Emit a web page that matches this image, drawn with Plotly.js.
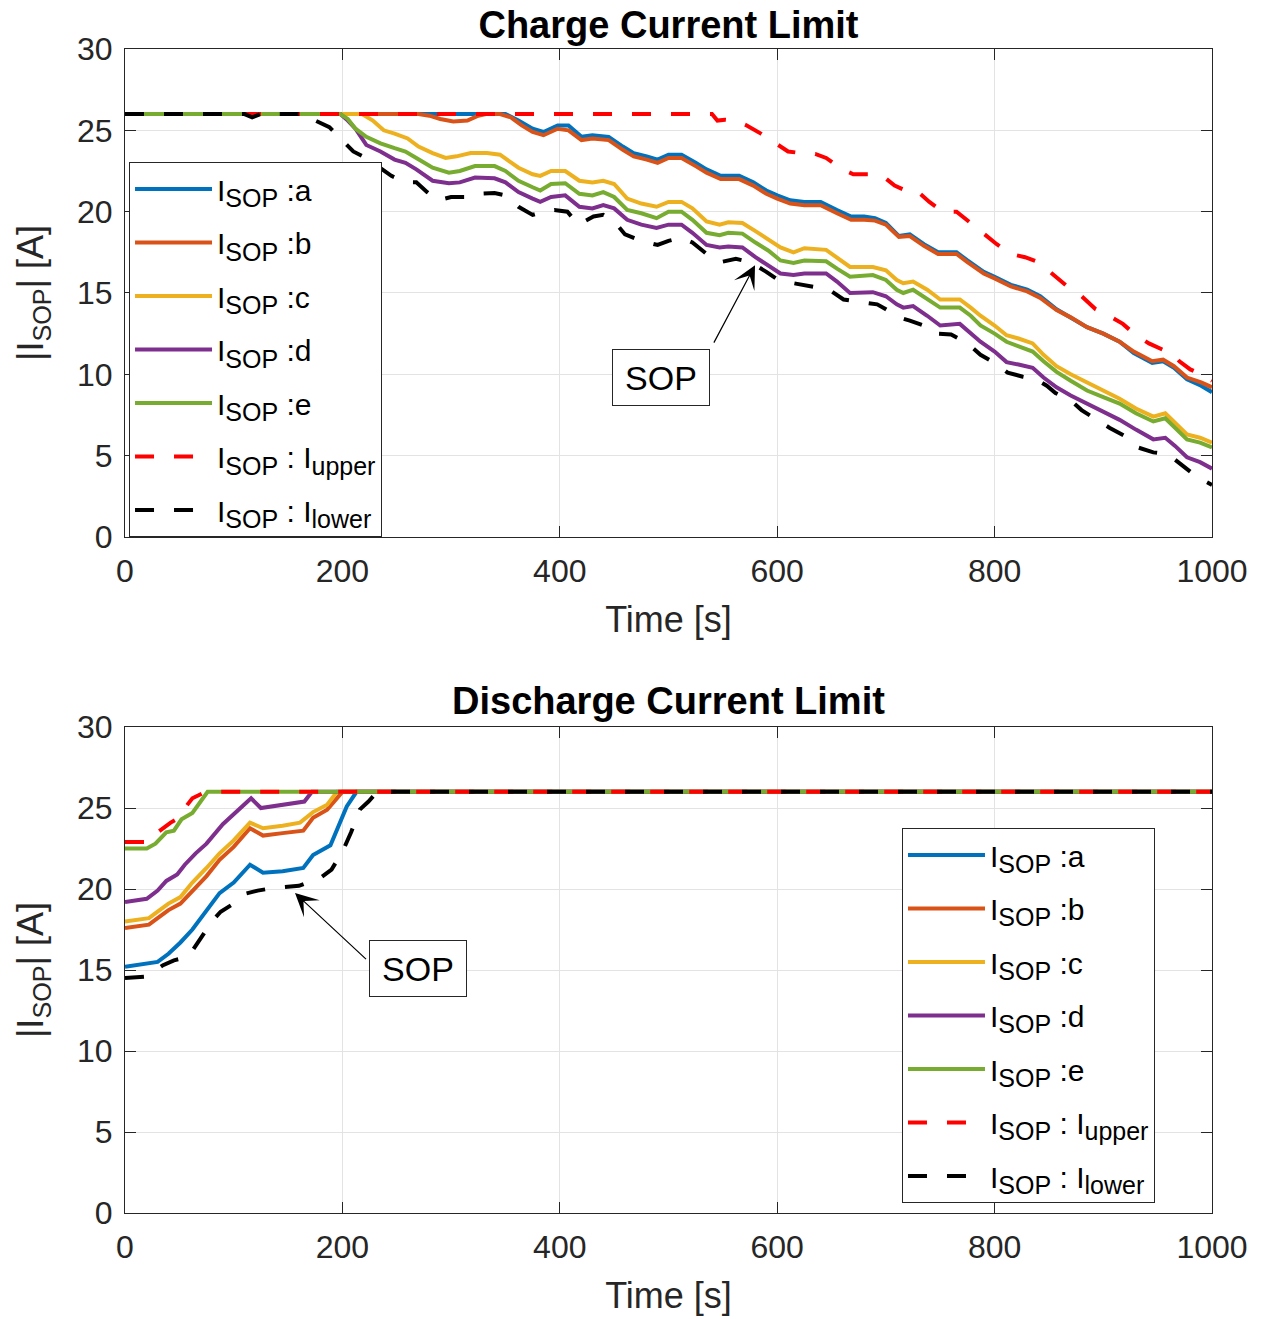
<!DOCTYPE html>
<html><head><meta charset="utf-8">
<script src="https://cdn.plot.ly/plotly-3.0.1.min.js"></script>
<style>html,body{margin:0;padding:0;background:#fff}#chart{width:1261px;height:1319px}</style>
</head><body><div id="chart"></div>
<script>
// ---------- Charge (top) ----------
const chgTimeA = [0,350,362,375,385,398,408,420,430,445,458,468,480,490,500,512,525,535,548,565,578,590,600,612,625,640,655,668,680,690,700,712,722,735,748,765,775,790,800,815,830,842,857,870,885,900,915,928,945,955,965,977,990,1000];
const chgA = [26,26,25.6,25.1,24.9,25.3,25.3,24.6,24.7,24.6,24.0,23.6,23.4,23.2,23.5,23.5,23.0,22.6,22.2,22.2,21.8,21.3,21.0,20.7,20.6,20.6,20.1,19.7,19.7,19.6,19.3,18.5,18.6,18.0,17.5,17.5,17.0,16.3,16.0,15.5,15.2,14.8,14.0,13.5,12.9,12.5,12.0,11.3,10.7,10.8,10.4,9.7,9.3,8.9];

const chgTimeB = [0,270,280,290,302,315,325,332,345,355,365,375,385,398,408,420,430,445,458,468,480,490,500,512,525,535,548,565,578,590,600,612,625,640,655,668,680,690,700,712,722,735,748,765,775,790,800,815,830,842,857,870,885,900,915,928,945,955,965,977,990,1000];
const chgB = [26,26,25.9,25.7,25.55,25.6,25.9,26,26,25.8,25.3,24.9,24.7,25.1,25.0,24.4,24.5,24.4,23.8,23.4,23.2,23.0,23.3,23.3,22.8,22.4,22.0,22.0,21.6,21.1,20.8,20.5,20.4,20.4,19.9,19.5,19.5,19.45,19.2,18.45,18.5,17.9,17.4,17.4,16.9,16.2,15.9,15.4,15.1,14.7,13.95,13.5,12.9,12.5,12.0,11.4,10.8,10.9,10.5,9.8,9.5,9.2];

const chgTimeC = [0,218,228,238,248,260,270,283,295,305,318,333,345,352,362,375,382,392,405,418,430,440,450,462,475,489,500,512,522,535,547,555,568,580,592,603,615,625,645,655,667,688,700,710,716,725,738,750,768,778,787,800,811,822,835,845,857,870,885,900,915,930,946,957,966,977,989,1000];
const chgC = [26,26,25.6,25.0,24.8,24.5,24.0,23.6,23.3,23.4,23.6,23.6,23.5,23.2,22.7,22.3,22.2,22.5,22.5,21.9,21.8,21.9,21.7,20.8,20.5,20.3,20.6,20.6,20.2,19.4,19.2,19.35,19.3,18.8,18.3,17.8,17.5,17.75,17.65,17.2,16.6,16.6,16.4,15.8,15.6,15.7,15.2,14.6,14.6,14.1,13.6,13.0,12.4,12.2,11.9,11.2,10.5,10.0,9.5,9.0,8.5,7.9,7.4,7.6,7.0,6.3,6.1,5.8];

const chgTimeDE = [0,198,205,212,222,235,248,258,268,283,298,308,322,340,350,362,375,382,392,405,418,430,440,450,462,475,489,500,512,522,535,547,555,568,580,592,603,615,625,645,655,667,688,700,710,716,725,738,750,768,778,787,800,811,822,835,845,857,870,885,900,915,930,946,957,966,977,989,1000];
const chgD = [26,26,25.6,25.1,24.1,23.7,23.2,23.0,22.6,21.9,21.75,21.8,22.1,22.05,21.8,21.2,20.8,20.6,20.9,21.0,20.3,20.2,20.4,20.2,19.5,19.2,19.0,19.2,19.2,18.7,17.95,17.8,17.85,17.8,17.2,16.7,16.2,16.1,16.2,16.2,15.7,15.0,15.05,14.8,14.3,14.1,14.2,13.6,13.0,13.1,12.5,12.0,11.4,10.75,10.6,10.4,9.8,9.2,8.7,8.2,7.7,7.2,6.6,6.0,6.1,5.6,4.9,4.6,4.2];
const chgE = [26,26,25.7,25.1,24.6,24.2,23.9,23.7,23.3,22.7,22.4,22.5,22.8,22.8,22.5,21.9,21.5,21.3,21.7,21.75,21.1,21.0,21.2,20.9,20.1,19.9,19.6,20.0,20.0,19.5,18.7,18.55,18.7,18.65,18.1,17.6,17.0,16.85,17.0,16.95,16.5,16.0,16.1,15.8,15.2,15.0,15.2,14.6,14.1,14.1,13.6,13.0,12.5,12.0,11.7,11.4,10.8,10.15,9.6,9.0,8.6,8.2,7.6,7.1,7.3,6.7,6.0,5.8,5.5];

const chgTimeUpper = [0,540,545,552,562,572,585,598,610,622,635,645,660,670,685,697,708,718,728,740,752,765,778,790,802,815,828,840,852,867,880,893,905,918,930,942,955,962,970,980,990,1000];
const chgUpper = [26,26,25.6,25.65,25.6,25.3,24.8,24.2,23.7,23.6,23.55,23.3,22.6,22.3,22.3,22.2,21.6,21.3,21.3,20.6,20.0,20.0,19.3,18.6,18.0,17.4,17.2,16.9,16.2,15.4,14.8,14.0,13.6,13.1,12.4,11.9,11.5,11.4,10.8,10.3,10.0,9.6];

const chgTimeLower = [0,110,117,125,168,175,188,198,210,222,232,245,258,268,278,288,300,315,325,340,350,362,375,385,395,407,417,431,440,450,460,475,490,500,512,522,535,548,562,575,590,603,615,630,640,650,661,676,692,700,712,722,735,745,760,775,787,800,812,826,838,848,856,870,880,894,906,920,932,946,958,965,975,986,1000];
const chgLower = [26,26,25.8,26,26,25.6,25.2,24.5,23.7,23.3,22.8,22.2,21.8,21.8,21.2,20.7,20.9,20.9,21.1,21.15,21.0,20.3,19.8,20.0,20.1,20.0,19.2,19.7,19.8,19.4,18.6,18.2,17.95,18.2,18.4,18.1,17.4,16.9,17.1,16.9,16.3,15.7,15.6,15.4,15.3,15.1,14.6,14.45,14.3,14.0,13.5,13.3,13.0,12.5,12.45,11.9,11.2,10.7,10.1,9.85,9.7,9.3,8.85,8.4,7.8,7.2,6.7,6.2,5.5,5.2,5.1,4.8,4.3,3.7,3.2];

// ---------- Discharge (bottom) ----------
const disTimeA = [0,22,30,40,51,62,75,87,100,115,127,145,164,173,189,197,204,213,1000];
const disA = [15.2,15.4,15.5,16.0,16.7,17.5,18.7,19.75,20.4,21.5,21.0,21.1,21.3,22.1,22.7,24.0,25.1,26,26];
const disTimeB = [0,22,30,40,51,62,75,87,100,115,127,145,164,173,186,200,1000];
const disB = [17.6,17.8,18.2,18.7,19.1,19.9,20.8,21.8,22.6,23.75,23.3,23.45,23.6,24.4,24.9,26,26];
const disTimeC = [0,22,30,40,51,62,75,87,100,115,127,145,161,173,186,195,1000];
const disC = [18.0,18.2,18.6,19.1,19.5,20.4,21.3,22.2,23.0,24.1,23.75,23.9,24.1,24.75,25.2,26,26];
const disTimeD = [0,20,30,38,48,55,65,75,90,103,116,125,145,165,172,1000];
const disD = [19.2,19.4,19.9,20.5,20.9,21.5,22.2,22.8,24.0,24.8,25.6,25.0,25.2,25.4,26,26];
const disTimeE = [0,20,28,38,45,52,62,76,1000];
const disE = [22.5,22.5,22.8,23.5,23.6,24.3,24.7,26,26];
const disTimeUpper = [0,22,30,42,50,55,62,74,1000];
const disUpper = [22.9,22.9,23.5,24.1,24.4,25.0,25.6,26,26];
const disTimeLower = [0,20,35,45,58,68,80,88,100,110,122,135,160,168,180,190,200,208,216,224,232,1000];
const disLower = [14.5,14.6,15.3,15.6,15.8,16.8,18.0,18.6,19.1,19.7,19.9,20.05,20.2,20.4,20.7,21.2,22.3,23.5,24.9,25.4,26,26];

// ---------- labels / ticks ----------
const SUB = s => '<sub><span style="font-size:25px">' + s + '</span></sub>';
const seriesNames = ['I' + SUB('SOP') + ' :a', 'I' + SUB('SOP') + ' :b', 'I' + SUB('SOP') + ' :c',
                     'I' + SUB('SOP') + ' :d', 'I' + SUB('SOP') + ' :e',
                     'I' + SUB('SOP') + ' : I' + SUB('upper'), 'I' + SUB('SOP') + ' : I' + SUB('lower')];
const seriesColors = ['#0072BD','#D95319','#EDB120','#7E2F8E','#77AC30','#FF0000','#000000'];
const xTicks = [0,200,400,600,800,1000];
const yTicks = [0,5,10,15,20,25,30];
const titleTop = 'Charge Current Limit';
const titleBottom = 'Discharge Current Limit';
const xLabel = 'Time [s]';
const yLabel = '|I<sub>SOP</sub>| [A]';
const sopLabel = 'SOP';

const FONT = '"Liberation Sans", Arial, Helvetica, sans-serif';

function mk(x, y, i, xa, ya, leg, tag) {
  const dashed = i >= 5;
  return {
    type: 'scatter', mode: 'lines', x: x, y: y, name: seriesNames[i],
    xaxis: xa, yaxis: ya, legend: leg, legendgroup: tag + i,
    line: {color: seriesColors[i], width: 4, dash: dashed ? '19px,20px' : 'solid'},
    hoverinfo: 'skip'
  };
}

const data = [
  mk(chgTimeA, chgA, 0, 'x', 'y', 'legend', 't'),
  mk(chgTimeB, chgB, 1, 'x', 'y', 'legend', 't'),
  mk(chgTimeC, chgC, 2, 'x', 'y', 'legend', 't'),
  mk(chgTimeDE, chgD, 3, 'x', 'y', 'legend', 't'),
  mk(chgTimeDE, chgE, 4, 'x', 'y', 'legend', 't'),
  mk(chgTimeUpper, chgUpper, 5, 'x', 'y', 'legend', 't'),
  mk(chgTimeLower, chgLower, 6, 'x', 'y', 'legend', 't'),
  mk(disTimeA, disA, 0, 'x2', 'y2', 'legend2', 'b'),
  mk(disTimeB, disB, 1, 'x2', 'y2', 'legend2', 'b'),
  mk(disTimeC, disC, 2, 'x2', 'y2', 'legend2', 'b'),
  mk(disTimeD, disD, 3, 'x2', 'y2', 'legend2', 'b'),
  mk(disTimeE, disE, 4, 'x2', 'y2', 'legend2', 'b'),
  mk(disTimeUpper, disUpper, 5, 'x2', 'y2', 'legend2', 'b'),
  mk(disTimeLower, disLower, 6, 'x2', 'y2', 'legend2', 'b')
];

function axisBase() {
  return {
    showline: true, linecolor: '#262626', linewidth: 1, mirror: 'ticks',
    ticks: 'inside', ticklen: 11, tickwidth: 1, tickcolor: '#262626',
    showgrid: true, gridcolor: '#e3e3e3', gridwidth: 1, zeroline: false,
    tickfont: {family: FONT, size: 32, color: '#262626'},
    fixedrange: true
  };
}
function xAxis(anchor) {
  return Object.assign(axisBase(), {
    anchor: anchor, domain: [0, 1], range: [0, 1000], tickvals: xTicks,
    ticklabelstandoff: 6,
    title: {text: xLabel, standoff: 18, font: {family: FONT, size: 36, color: '#262626'}}
  });
}
function yAxis(anchor, dom) {
  return Object.assign(axisBase(), {
    anchor: anchor, domain: dom, range: [0, 30], tickvals: yTicks,
    ticklabelstandoff: 5,
    title: {text: yLabel, font: {family: FONT, size: 36, color: '#262626'}}
  });
}
function legendBox(x, y) {
  return {
    x: x, y: y, xanchor: 'left', yanchor: 'top', xref: 'paper', yref: 'paper',
    bgcolor: 'white', bordercolor: '#262626', borderwidth: 1,
    font: {family: FONT, size: 30, color: '#000'},
    itemwidth: 77, traceorder: 'grouped', tracegroupgap: 11.5
  };
}

const layout = {
  width: 1261, height: 1319,
  margin: {l: 125, r: 49, t: 49, b: 106},
  paper_bgcolor: 'white', plot_bgcolor: 'white',
  showlegend: true,
  title: {text: titleTop, font: {family: FONT, size: 38, weight: 'bold', color: '#000'},
          x: 0.5, xref: 'paper', xanchor: 'center', y: 1 - 25/1319, yref: 'container', yanchor: 'middle'},
  xaxis: xAxis('y'),
  yaxis: yAxis('x', [0.5808, 1]),
  xaxis2: xAxis('y2'),
  yaxis2: yAxis('x2', [0, 0.4175]),
  legend: legendBox(0.0037, 0.9029),
  legend2: legendBox(0.7148, 0.3308),
  annotations: [
    {text: titleBottom, xref: 'paper', yref: 'paper', x: 0.5, y: 0.4399, xanchor: 'center', yanchor: 'middle',
     showarrow: false, font: {family: FONT, size: 38, weight: 'bold', color: '#000'}},
    {text: ' ', xref: 'x', yref: 'y', x: 579.6, y: 16.7, axref: 'x', ayref: 'y', ax: 539, ay: 11.6,
     showarrow: true, arrowhead: 3, arrowsize: 3.2, arrowwidth: 1.2, arrowcolor: '#000', standoff: 0, startstandoff: 0},
    {text: sopLabel, xref: 'x', yref: 'y', x: 493.1, y: 9.83, showarrow: false,
     font: {family: FONT, size: 34, color: '#000'}, bgcolor: 'white', bordercolor: '#262626', borderwidth: 1,
     borderpad: 0, width: 96, height: 55},
    {text: ' ', xref: 'x2', yref: 'y2', x: 156.4, y: 19.75, axref: 'x2', ayref: 'y2', ax: 224.5, ay: 15.5,
     showarrow: true, arrowhead: 3, arrowsize: 3.2, arrowwidth: 1.2, arrowcolor: '#000', standoff: 0, startstandoff: 0},
    {text: sopLabel, xref: 'x2', yref: 'y2', x: 270, y: 15.09, showarrow: false,
     font: {family: FONT, size: 34, color: '#000'}, bgcolor: 'white', bordercolor: '#262626', borderwidth: 1,
     borderpad: 0, width: 96, height: 55}
  ]
};

Plotly.newPlot('chart', data, layout, {displayModeBar: false, staticPlot: true});
</script>
</body></html>
